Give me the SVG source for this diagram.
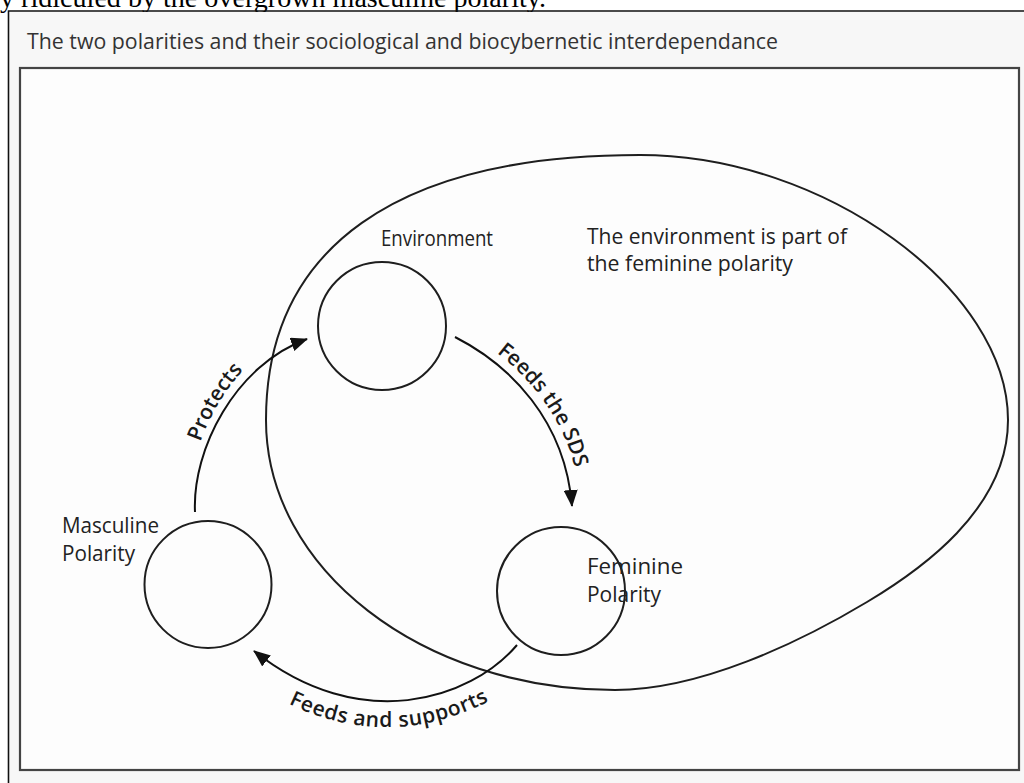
<svg xmlns="http://www.w3.org/2000/svg" width="1024" height="783" viewBox="0 0 1024 783">
  <style>
    .lbl { font-family: "Open Sans", "Liberation Sans", sans-serif; font-size: 22px; fill: #222; }
    .head { font-family: "Open Sans", "Liberation Sans", sans-serif; font-size: 22px; fill: #333; }
    .alb { font-family: "Open Sans", "Liberation Sans", sans-serif; font-size: 21px; font-weight: 600; fill: #1a1a1a; }
    .node { fill: none; stroke: #1e1e1e; stroke-width: 2; }
    .conn { fill: none; stroke: #111; stroke-width: 2; marker-end: url(#ah); }
    .guide { fill: none; stroke: none; }
  </style>
  <defs>
    <marker id="ah" markerUnits="userSpaceOnUse" markerWidth="18" markerHeight="14" refX="16" refY="7" orient="auto">
      <path d="M0,0 L17,7 L0,14 z" fill="#111"/>
    </marker>
    <!-- baselines for the curved connector labels -->
    <path id="p-protects" class="guide" d="M189,512 C186,446 229,356 302,331"/>
    <path id="p-sds" class="guide" d="M459,329 C516,358 573,416 580,499"/>
    <path id="p-supports" class="guide" d="M281,700 Q389,756 497,697"/>
  </defs>

  <!-- page -->
  <rect x="0" y="0" width="1024" height="783" fill="#ffffff"/>
  <text x="0" y="7" font-family="Liberation Serif, serif" font-size="28" fill="#000" textLength="546" lengthAdjust="spacingAndGlyphs">y ridiculed by the overgrown masculine polarity.</text>

  <!-- figure frame -->
  <rect x="9.5" y="12" width="1015" height="771" fill="#f7f7f7"/>
  <path d="M8.5,783 V11 H1024" fill="none" stroke="#111" stroke-width="1.6"/>
  <text class="head" x="27" y="49" textLength="751" lengthAdjust="spacingAndGlyphs">The two polarities and their sociological and biocybernetic interdependance</text>
  <rect x="20" y="68" width="999" height="702" fill="#fdfdfd" stroke="#444" stroke-width="2.2"/>

  <!-- feminine sphere -->
  <g id="feminine-sphere">
    <path class="node" d="M266,420 C266,247.75 396.9,155 640,155 C825,155 1008,290 1008,420 C1008,510 918.4,571.2 867,602 C798.4,643.1 700,690 615,690 C422,690 266,569 266,420 Z"/>
    <text class="lbl">
      <tspan x="587" y="244" textLength="260" lengthAdjust="spacingAndGlyphs">The environment is part of</tspan>
      <tspan x="587" y="271" textLength="206" lengthAdjust="spacingAndGlyphs">the feminine polarity</tspan>
    </text>
  </g>

  <g id="environment">
    <circle class="node" cx="382" cy="326" r="64"/>
    <text class="lbl" x="381" y="246" textLength="112" lengthAdjust="spacingAndGlyphs">Environment</text>
  </g>

  <g id="masculine-polarity">
    <circle class="node" cx="208" cy="584.5" r="63.5"/>
    <text class="lbl">
      <tspan x="62" y="533" textLength="97" lengthAdjust="spacingAndGlyphs">Masculine</tspan>
      <tspan x="62" y="561" textLength="73" lengthAdjust="spacingAndGlyphs">Polarity</tspan>
    </text>
  </g>

  <g id="feminine-polarity">
    <circle class="node" cx="561" cy="591" r="64"/>
    <text class="lbl">
      <tspan x="587" y="574" textLength="96" lengthAdjust="spacingAndGlyphs">Feminine</tspan>
      <tspan x="587" y="602" textLength="74" lengthAdjust="spacingAndGlyphs">Polarity</tspan>
    </text>
  </g>

  <!-- connectors -->
  <g id="connectors">
    <path class="conn" d="M195,512 C192,450 235,365 307,339"/>
    <path class="conn" d="M455,337 C510,365 565,420 572,506"/>
    <path class="conn" d="M517,645 C470,700 360,735 254,651"/>
    <text class="alb"><textPath href="#p-protects" startOffset="50%" text-anchor="middle">Protects</textPath></text>
    <text class="alb"><textPath href="#p-sds" startOffset="53%" text-anchor="middle">Feeds the SDS</textPath></text>
    <text class="alb" letter-spacing="0.6"><textPath href="#p-supports" startOffset="50%" text-anchor="middle">Feeds and supports</textPath></text>
  </g>
</svg>
